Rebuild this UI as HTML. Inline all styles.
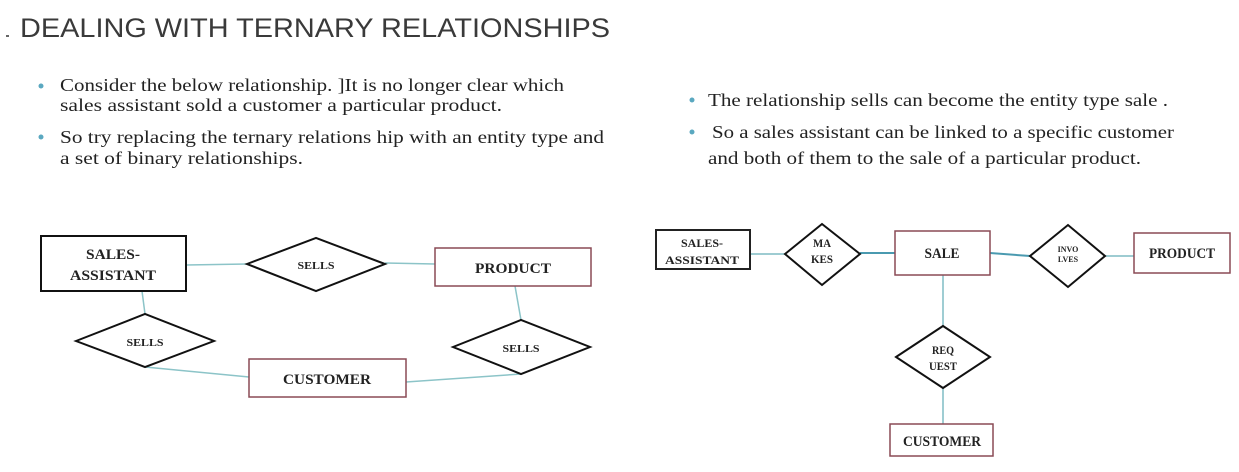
<!DOCTYPE html>
<html><head><meta charset="utf-8"><style>
html,body{margin:0;padding:0;background:#fff;}
svg{display:block;}
</style></head><body>
<svg width="1239" height="472" viewBox="0 0 1239 472" xmlns="http://www.w3.org/2000/svg">
<rect width="1239" height="472" fill="#fff"/>
<g font-family="Liberation Sans, sans-serif" fill="#3a3a3a">
<text x="20" y="37" font-size="27" textLength="590" lengthAdjust="spacingAndGlyphs">DEALING WITH TERNARY RELATIONSHIPS</text>
<rect x="6" y="35" width="3" height="2" fill="#666"/>
</g>
<g font-family="Liberation Serif, serif" font-size="18" fill="#222">
<circle cx="41" cy="86" r="2.5" fill="#5aa8c0"/>
<text x="60" y="91" textLength="504" lengthAdjust="spacingAndGlyphs">Consider the below relationship. ]It is no longer clear which</text>
<text x="60" y="111" textLength="442" lengthAdjust="spacingAndGlyphs">sales assistant sold  a customer a particular product.</text>
<circle cx="41" cy="137" r="2.5" fill="#5aa8c0"/>
<text x="60" y="143" textLength="544" lengthAdjust="spacingAndGlyphs">So try replacing the ternary relations hip with an entity type and</text>
<text x="60" y="164" textLength="243" lengthAdjust="spacingAndGlyphs">a  set of binary relationships.</text>
<circle cx="692" cy="100" r="2.5" fill="#5aa8c0"/>
<text x="708" y="106" textLength="460" lengthAdjust="spacingAndGlyphs">The relationship sells can become the entity type sale .</text>
<circle cx="692" cy="132" r="2.5" fill="#5aa8c0"/>
<text x="712" y="138" textLength="462" lengthAdjust="spacingAndGlyphs">So a sales assistant can be linked to a specific customer</text>
<text x="708" y="164" textLength="433" lengthAdjust="spacingAndGlyphs">and both of them to the sale of a particular product.</text>
</g>
<g stroke="#8cc4c8" stroke-width="1.5" fill="none">
<line x1="186" y1="265" x2="247" y2="264"/>
<line x1="385" y1="263" x2="435" y2="264"/>
<line x1="142" y1="291" x2="145" y2="314"/>
<line x1="145" y1="367" x2="249" y2="377"/>
<line x1="515" y1="286" x2="521" y2="320"/>
<line x1="406" y1="382" x2="521" y2="374"/>
</g>
<g fill="#fff">
<rect x="41" y="236" width="145" height="55" stroke="#111" stroke-width="2"/>
<polygon points="247,264 316,238 385,264 316,291" stroke="#111" stroke-width="2"/>
<rect x="435" y="248" width="156" height="38" stroke="#8a4a55" stroke-width="1.5"/>
<polygon points="76,341 145,314 214,341 145,367" stroke="#111" stroke-width="2"/>
<rect x="249" y="359" width="157" height="38" stroke="#8a4a55" stroke-width="1.5"/>
<polygon points="453,347 521,320 590,347 521,374" stroke="#111" stroke-width="2"/>
</g>
<g font-family="Liberation Serif, serif" fill="#222" text-anchor="middle" font-weight="bold">
<text x="113" y="259" font-size="15" textLength="54" lengthAdjust="spacingAndGlyphs">SALES-</text>
<text x="113" y="280" font-size="15" textLength="86" lengthAdjust="spacingAndGlyphs">ASSISTANT</text>
<text x="316" y="269" font-size="11" textLength="37" lengthAdjust="spacingAndGlyphs">SELLS</text>
<text x="513" y="273" font-size="15" textLength="76" lengthAdjust="spacingAndGlyphs">PRODUCT</text>
<text x="145" y="346" font-size="11" textLength="37" lengthAdjust="spacingAndGlyphs">SELLS</text>
<text x="327" y="384" font-size="15" textLength="88" lengthAdjust="spacingAndGlyphs">CUSTOMER</text>
<text x="521" y="352" font-size="11" textLength="37" lengthAdjust="spacingAndGlyphs">SELLS</text>
</g>
<g stroke="#7fbcc4" stroke-width="1.5" fill="none">
<line x1="750" y1="254" x2="785" y2="254"/>
<line x1="860" y1="253" x2="895" y2="253" stroke="#4a9ab0" stroke-width="2"/>
<line x1="990" y1="253" x2="1030" y2="256" stroke="#4a9ab0" stroke-width="2"/>
<line x1="1105" y1="256" x2="1134" y2="256"/>
<line x1="943" y1="275" x2="943" y2="326"/>
<line x1="943" y1="388" x2="943" y2="424"/>
</g>
<g fill="#fff">
<rect x="656" y="230" width="94" height="39" stroke="#222" stroke-width="2"/>
<polygon points="785,254 822,224 860,254 822,285" stroke="#111" stroke-width="2"/>
<rect x="895" y="231" width="95" height="44" stroke="#8a4a55" stroke-width="1.5"/>
<polygon points="1030,256 1068,225 1105,256 1068,287" stroke="#111" stroke-width="2"/>
<rect x="1134" y="233" width="96" height="40" stroke="#8a4a55" stroke-width="1.5"/>
<polygon points="896,357 943,326 990,357 943,388" stroke="#111" stroke-width="2"/>
<rect x="890" y="424" width="103" height="32" stroke="#8a4a55" stroke-width="1.5"/>
</g>
<g font-family="Liberation Serif, serif" fill="#222" text-anchor="middle" font-weight="bold">
<text x="702" y="247" font-size="12" textLength="42" lengthAdjust="spacingAndGlyphs">SALES-</text>
<text x="702" y="264" font-size="12" textLength="74" lengthAdjust="spacingAndGlyphs">ASSISTANT</text>
<text x="822" y="247" font-size="12" textLength="18" lengthAdjust="spacingAndGlyphs">MA</text>
<text x="822" y="263" font-size="12" textLength="22" lengthAdjust="spacingAndGlyphs">KES</text>
<text x="942" y="258" font-size="15" textLength="35" lengthAdjust="spacingAndGlyphs">SALE</text>
<text x="1068" y="252" font-size="8">INVO</text>
<text x="1068" y="262" font-size="8">LVES</text>
<text x="1182" y="258" font-size="15" textLength="66" lengthAdjust="spacingAndGlyphs">PRODUCT</text>
<text x="943" y="354" font-size="12" textLength="22" lengthAdjust="spacingAndGlyphs">REQ</text>
<text x="943" y="370" font-size="12" textLength="28" lengthAdjust="spacingAndGlyphs">UEST</text>
<text x="942" y="446" font-size="15" textLength="78" lengthAdjust="spacingAndGlyphs">CUSTOMER</text>
</g>
</svg>
</body></html>
